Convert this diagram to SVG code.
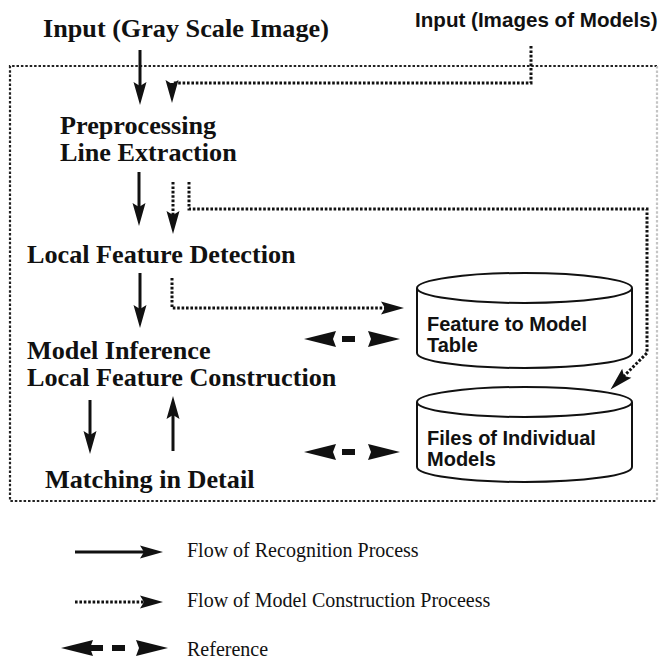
<svg xmlns="http://www.w3.org/2000/svg" width="661" height="660" viewBox="0 0 661 660">
  <style>
    .serif { font-family: "Liberation Serif", "Times New Roman", serif; font-weight: bold; font-size: 26.2px; fill: #111; }
    .sans { font-family: "Liberation Sans", Arial, sans-serif; font-weight: bold; font-size: 20px; fill: #111; }
    .legend { font-family: "Liberation Serif", "Times New Roman", serif; font-size: 20px; fill: #111; }
    .solid { fill: none; stroke: #111; stroke-width: 3; }
    .dotted { fill: none; stroke: #111; stroke-width: 3; stroke-dasharray: 2.6 1.8; }
    .frame { fill: none; stroke: #222; stroke-width: 2.2; stroke-dasharray: 2.5 1.9; }
    .drum { fill: #fff; stroke: #111; stroke-width: 2; }
    .head { fill: #111; }
  </style>
  <defs>
    <!-- dart-shaped arrowhead, tip 12 units past the line end -->
    <marker id="dart" markerUnits="userSpaceOnUse" markerWidth="40" markerHeight="20" viewBox="-14 -10 30 20" refX="0" refY="0" orient="auto" overflow="visible">
      <path class="head" d="M12,0 L-11,-6.5 L-7,0 L-11,6.5 Z"/>
    </marker>
    <!-- head for the two-way reference connector -->
    <path id="refhead" class="head" d="M0,0 L32,-8 L29,0 L32,8 Z"/>
  </defs>

  <rect width="661" height="660" fill="#fff"/>

  <!-- dotted boundary of the model construction area -->
  <g id="boundary">
    <path class="frame" d="M657,66 H10 V501 H657"/>
    <path class="frame" d="M657,66 V501" style="stroke:#c4c4c4"/>
  </g>

  <!-- connectors -->
  <g id="connectors">
    <!-- recognition flow -->
    <path class="solid" d="M140,50 V93" marker-end="url(#dart)"/>
    <path class="solid" d="M139,172 V214" marker-end="url(#dart)"/>
    <path class="solid" d="M140,273 V316" marker-end="url(#dart)"/>
    <path class="solid" d="M90,400 V442" marker-end="url(#dart)"/>
    <path class="solid" d="M173,451 V408" marker-end="url(#dart)"/>

    <!-- model construction flow -->
    <path class="dotted" d="M531,46 V83 H172 V91" marker-end="url(#dart)"/>
    <path class="dotted" d="M173,182 V222" marker-end="url(#dart)"/>
    <path class="dotted" d="M189,182 V209 H647 V353 L619,381" marker-end="url(#dart)"/>
    <path class="dotted" d="M172,278 V308 H392" marker-end="url(#dart)"/>

    <!-- references to the tables -->
    <g id="ref-table">
      <use href="#refhead" x="304" y="339"/>
      <rect class="head" x="342" y="336" width="13" height="6"/>
      <use href="#refhead" transform="translate(400,339) scale(-1,1)"/>
    </g>
    <g id="ref-files">
      <use href="#refhead" x="304" y="452"/>
      <rect class="head" x="342" y="449" width="13" height="6"/>
      <use href="#refhead" transform="translate(400,452) scale(-1,1)"/>
    </g>
  </g>

  <!-- process steps -->
  <g id="input-gray">
    <text class="serif" x="43" y="37">Input (Gray Scale Image)</text>
  </g>
  <g id="input-models">
    <text class="sans" x="415" y="27" style="font-size:20.6px">Input (Images of Models)</text>
  </g>
  <g id="preprocessing">
    <text class="serif" x="60" y="134">Preprocessing</text>
    <text class="serif" x="60" y="161">Line Extraction</text>
  </g>
  <g id="feature-detection">
    <text class="serif" x="27" y="263">Local Feature Detection</text>
  </g>
  <g id="model-inference">
    <text class="serif" x="27" y="359">Model Inference</text>
    <text class="serif" x="27" y="386">Local Feature Construction</text>
  </g>
  <g id="matching">
    <text class="serif" x="45" y="488">Matching in Detail</text>
  </g>

  <!-- data stores -->
  <g id="feature-table">
    <path class="drum" d="M417,288 V353 A107.5,15 0 0 0 632,353 V288"/>
    <ellipse class="drum" cx="524.5" cy="288" rx="107.5" ry="15"/>
    <text class="sans" x="427" y="331">Feature to Model</text>
    <text class="sans" x="427" y="352">Table</text>
  </g>
  <g id="model-files">
    <path class="drum" d="M417,402 V467 A107.5,15 0 0 0 632,467 V402"/>
    <ellipse class="drum" cx="524.5" cy="402" rx="107.5" ry="15"/>
    <text class="sans" x="427" y="445">Files of Individual</text>
    <text class="sans" x="427" y="466">Models</text>
  </g>

  <!-- legend -->
  <g id="legend">
    <path class="solid" d="M75,552 H151" marker-end="url(#dart)"/>
    <text class="legend" x="187" y="557">Flow of Recognition Process</text>
    <path class="dotted" d="M75,602 H151" marker-end="url(#dart)"/>
    <text class="legend" x="187" y="607">Flow of Model Construction Proceess</text>
    <use href="#refhead" x="61" y="648"/>
    <rect class="head" x="90" y="645" width="13" height="6"/>
    <rect class="head" x="112" y="645" width="13" height="6"/>
    <use href="#refhead" transform="translate(168,648) scale(-1,1)"/>
    <text class="legend" x="187" y="656">Reference</text>
  </g>
</svg>
